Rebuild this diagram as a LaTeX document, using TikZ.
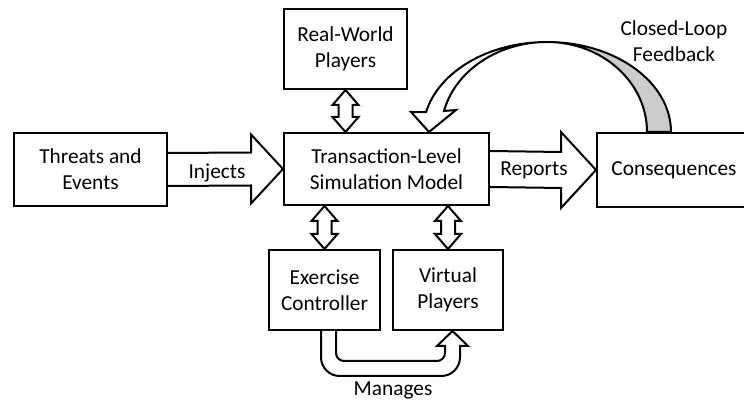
\documentclass[tikz,border=0pt]{standalone}
\usepackage{fontspec}
\setmainfont{Carlito}
\usetikzlibrary{calc}

\tikzset{
  box/.style={draw, line width=1.5pt, fill=white, align=center, inner sep=0pt,
    font=\fontsize{16}{19.5}\selectfont},
  blockarrow/.style={draw, line width=1.5pt, fill=white, line join=miter},
  lbl/.style={align=center, inner sep=0pt, font=\fontsize{16}{19.5}\selectfont}
}

% vertical two-headed block arrow, #1 top point, #2 bottom point
\newcommand{\vdblarrow}[2]{%
  \draw[blockarrow] (#1) -- ++(13,15) -- ++(-6,0) -- ($(#2)+(7,-15)$)
    -- ++(6,0) -- (#2) -- ++(-13,-15) -- ++(6,0) -- ($(#1)+(-7,15)$)
    -- ++(-6,0) -- cycle;}

\begin{document}
\begin{tikzpicture}[x=0.75pt,y=0.75pt,yscale=-1,xscale=1]

\useasboundingbox (0,0) rectangle (744,402);
\clip (0,0) rectangle (744,402);

% boxes
\node[box, minimum width=153*0.75pt, minimum height=73*0.75pt] (threats) at (90.5,169.5) {Threats and\\Events};
\node[box, minimum width=205*0.75pt, minimum height=72*0.75pt] (model) at (386.5,169) {Transaction-Level\\Simulation Model};
\node[box, minimum width=123*0.75pt, minimum height=80*0.75pt] (real) at (345.5,49) {Real-World\\Players};
\node[box, minimum width=154*0.75pt, minimum height=74*0.75pt] (conseq) at (674,170) {Consequences};
\node[box, minimum width=111*0.75pt, minimum height=80*0.75pt] (exercise) at (324.5,290) {Exercise\\Controller};
\node[box, minimum width=110*0.75pt, minimum height=80*0.75pt] (virtual) at (448,290) {Virtual\\Players};

% injects
\draw[blockarrow] ($(threats.east)+(0,-16.5)$) -- ($(model.west)+(-32,-16.5)$)
  -- ($(model.west)+(-32,-34.5)$) -- (model.west) -- ($(model.west)+(-32,34.5)$)
  -- ($(model.west)+(-32,16.5)$) -- ($(threats.east)+(0,16.5)$);
\node[lbl] (injects) at (217,173) {Injects};

% reports
\draw[blockarrow] ($(model.east)+(0,-18)$) -- ($(conseq.west)+(-35,-18)$)
  -- ($(conseq.west)+(-35,-38)$) -- (conseq.west) -- ($(conseq.west)+(-35,38)$)
  -- ($(conseq.west)+(-35,18)$) -- ($(model.east)+(0,18)$);
\node[lbl] (reports) at (534,170) {Reports};

% two-way links
\vdblarrow{real.south}{real.south |- model.north}
\vdblarrow{exercise.north |- model.south}{exercise.north}
\vdblarrow{virtual.north |- model.south}{virtual.north}

% manages
\coordinate (m1) at ($(exercise.south)+(4,0)$);
\coordinate (m2) at ($(virtual.south)+(4.5,0)$);
\draw[blockarrow] ($(m1)+(-7.5,0)$) [rounded corners=14pt] -- ($(m1)+(-7.5,45)$)
  -- ($(m2)+(7.5,45)$) [sharp corners] -- ($(m2)+(7.5,15)$) -- ($(m2)+(15.5,15)$)
  -- (m2) -- ($(m2)+(-15.5,15)$) -- ($(m2)+(-7.5,15)$) [rounded corners=6pt]
  -- ($(m2)+(-7.5,30)$) -- ($(m1)+(7.5,30)$) [sharp corners] -- ($(m1)+(7.5,0)$);
\node[lbl] (manages) at (393,390) {Manages};

% closed-loop feedback
\coordinate (loop) at ($(conseq.north west)+(-49,0)$);
\draw[line width=1.5pt, fill=black!20] ($(loop)+(124,0)$)
  arc[start angle=0, end angle=-90, x radius=124, y radius=90]
  arc[start angle=-90, end angle=0, x radius=100, y radius=90] -- cycle;
\draw[blockarrow] ($(loop)+(0,-90)$)
  arc[start angle=-90, end angle=-167.2, x radius=124, y radius=90]
  -- ($(loop)+(-136,-20)$) -- ($(loop)+(-118,0)$) -- ($(loop)+(-91,-22)$)
  -- ($(loop)+(-103,-21)$)
  arc[start angle=-166.5, end angle=-90, x radius=106, y radius=90] -- cycle;
\node[lbl] (feedback) at (674,41) {Closed-Loop\\Feedback};

\end{tikzpicture}
\end{document}
